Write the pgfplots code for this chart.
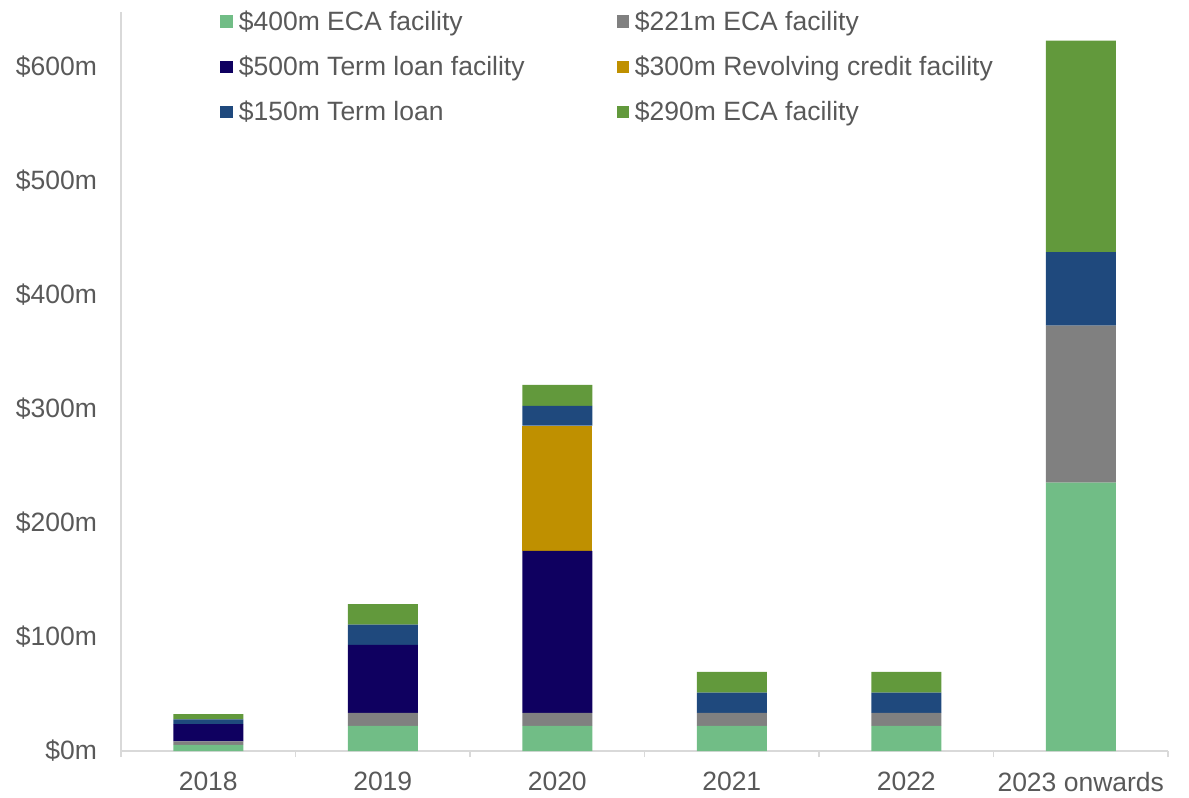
\documentclass[border=0pt]{standalone}
\usepackage{pgfplots}
\usepackage{pgfplotstable}
\pgfplotsset{compat=1.18}
\usepackage{fontspec}
\setmainfont{Liberation Sans}

\definecolor{txt}{HTML}{595959}
\definecolor{axln}{HTML}{D9D9D9}
\definecolor{ecaA}{HTML}{71BD86}
\definecolor{ecaB}{HTML}{808080}
\definecolor{tlf}{HTML}{0F0060}
\definecolor{rcf}{HTML}{BF9000}
\definecolor{tl}{HTML}{1F497D}
\definecolor{ecaC}{HTML}{62993C}

% x: 0=2018 ... 5=2023 onwards; values in $m
\pgfplotstableread{
x  ecaA   ecaB   tlf    rcf   tl    ecaC
0  5.3    3.2    15.0   0     4.2   4.7
1  22.0   11.4   59.6   0     17.8  18.1
2  22.0   11.4   142.0  110.0 17.3  18.4
3  22.0   11.4   0      0     17.8  18.1
4  22.0   11.4   0      0     17.8  18.1
5  235.4  137.7  0      0     64.4  185.4
}\repay

\begin{document}
\begin{tikzpicture}
\begin{axis}[
    scale only axis,
    width=523.5bp, height=369.5bp,
    ybar stacked, bar width=35bp,
    xmin=-0.5, xmax=5.5, ymin=0, ymax=648,
    enlargelimits=false,
    axis x line*=bottom, axis y line*=left,
    axis line style={draw=axln, line width=0.7bp},
    xtick={0,...,5},
    xticklabels={2018,2019,2020,2021,2022,2023 onwards},
    minor xtick={-0.5,0.5,...,5.5},
    major tick length=0pt,
    minor tick length=3bp,
    tick align=outside,
    minor tick style={draw=axln, line width=0.7bp},
    ytick={0,100,...,600},
    yticklabels={\$0m,\$100m,\$200m,\$300m,\$400m,\$500m,\$600m},
    /pgf/number format/assume math mode=true,
    tick label style={font=\fontsize{13.3}{16}\selectfont, text=txt},
    yticklabel style={xshift=-8.5bp},
    xticklabel style={yshift=-7bp},
    legend columns=2,
    legend cell align=left,
    legend style={at={(axis description cs:0.0946,1)}, anchor=north west,
        yshift=2bp, draw=none, fill=none,
        inner sep=0pt, row sep=9.25bp,
        font=\fontsize{13.3}{16}\selectfont, text=txt,
        nodes={inner xsep=3bp, inner ysep=1bp},
        /tikz/every even column/.append style={column sep=43bp}},
    legend image code/.code={\fill[#1] (0bp,-3.1bp) rectangle (6.2bp,3.1bp);},
]
\addplot[fill=ecaA, draw=none] table[x=x, y=ecaA] {\repay};
\addlegendentry{\$400m ECA facility}
\addplot[fill=ecaB, draw=none] table[x=x, y=ecaB] {\repay};
\addlegendentry{\$221m ECA facility}
\addplot[fill=tlf, draw=none] table[x=x, y=tlf] {\repay};
\addlegendentry{\$500m Term loan facility}
\addplot[fill=rcf, draw=none] table[x=x, y=rcf] {\repay};
\addlegendentry{\$300m Revolving credit facility}
\addplot[fill=tl, draw=none] table[x=x, y=tl] {\repay};
\addlegendentry{\$150m Term loan}
\addplot[fill=ecaC, draw=none] table[x=x, y=ecaC] {\repay};
\addlegendentry{\$290m ECA facility}
\end{axis}
\pgfresetboundingbox
\path[use as bounding box] ([xshift=-60.5bp,yshift=-23bp]current axis.south west)
    rectangle ([xshift=10.5bp,yshift=6bp]current axis.north east);
\end{tikzpicture}
\end{document}
